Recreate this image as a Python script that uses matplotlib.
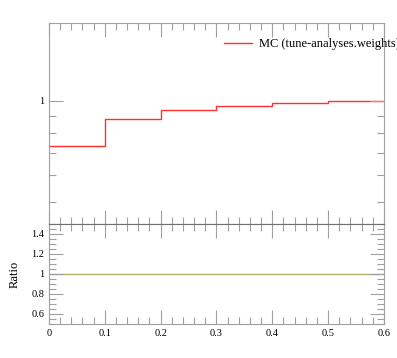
import numpy as np
import matplotlib
matplotlib.use("Agg")
import matplotlib.pyplot as plt
from matplotlib.ticker import MultipleLocator, FixedLocator, NullFormatter

plt.rcParams['font.family'] = ['Liberation Serif', 'DejaVu Serif']

# bin edges and values (cumulative-like shape)
bin_edges = [0.0, 0.1, 0.2, 0.3, 0.4, 0.5, 0.6]
mc_values = [0.735, 0.880, 0.938, 0.966, 0.986, 1.0]
ratio_values = [1.0, 1.0, 1.0, 1.0, 1.0, 1.0]
legend_label = "MC (tune-analyses.weights)"

frame_col = '#a0a0a0'

fig = plt.figure(figsize=(3.97, 3.58), dpi=100)
ax = fig.add_axes([0.1234, 0.3743, 0.8436, 0.5615])
axr = fig.add_axes([0.1234, 0.095, 0.8436, 0.2793], sharex=ax)

ax.stairs(mc_values, bin_edges, baseline=None, color='#ff3030', linewidth=1.0, label=legend_label)
ax.set_yscale('log')
ax.set_ylim(0.43, 1.70)
ax.set_xlim(0, 0.6)
ax.yaxis.set_major_locator(FixedLocator([1.0]))
ax.yaxis.set_minor_locator(FixedLocator([0.5, 0.6, 0.7, 0.8, 0.9]))
ax.yaxis.set_major_formatter(matplotlib.ticker.FixedFormatter(['1']))
ax.yaxis.set_minor_formatter(NullFormatter())
ax.tick_params(labelbottom=False)

axr.stairs(ratio_values, bin_edges, baseline=None, color='#b0b068', linewidth=1.0)
axr.set_ylim(0.5, 1.5)
axr.yaxis.set_minor_locator(MultipleLocator(0.05))
axr.set_yticks([0.6, 0.8, 1.0, 1.2, 1.4])
axr.set_yticklabels(['0.6', '0.8', '1', '1.2', '1.4'])
axr.xaxis.set_minor_locator(MultipleLocator(0.02))
axr.set_xticks([0, 0.1, 0.2, 0.3, 0.4, 0.5, 0.6])
axr.set_xticklabels(['0', '0.1', '0.2', '0.3', '0.4', '0.5', '0.6'])
axr.set_ylabel('Ratio', fontsize=9)
axr.yaxis.set_label_coords(-0.085, 0.5)

for a in (ax, axr):
    for s in a.spines.values():
        s.set_color(frame_col)
        s.set_linewidth(0.8)
    a.tick_params(which='both', direction='in', top=True, right=True,
                  color=frame_col, labelsize=7.5, width=0.8)
    a.tick_params(which='major', length=10)
    a.tick_params(which='minor', length=5)
ax.spines['bottom'].set_color('#707070')
axr.spines['top'].set_color('#707070')

leg = ax.legend(loc='upper left', bbox_to_anchor=(0.49, 0.98), frameon=False,
                fontsize=9, handlelength=2.2, handletextpad=0.6)

fig.savefig('out.png', dpi=100)
